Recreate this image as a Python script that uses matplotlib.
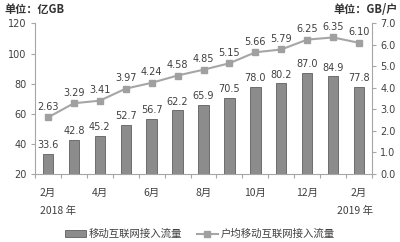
import matplotlib
matplotlib.use("Agg")
import matplotlib.pyplot as plt
import numpy as np

plt.rcParams['font.family'] = ['Noto Sans CJK SC', 'DejaVu Sans']

months = ['2月', '3月', '4月', '5月', '6月', '7月', '8月', '9月', '10月', '11月', '12月', '1月', '2月']
traffic = [33.6, 42.8, 45.2, 52.7, 56.7, 62.2, 65.9, 70.5, 78.0, 80.2, 87.0, 84.9, 77.8]
per_user = [2.63, 3.29, 3.41, 3.97, 4.24, 4.58, 4.85, 5.15, 5.66, 5.79, 6.25, 6.35, 6.10]
left_ticks = [20, 40, 60, 80, 100, 120]
right_ticks = [0.0, 1.0, 2.0, 3.0, 4.0, 5.0, 6.0, 7.0]

fig = plt.figure(figsize=(4.0, 2.42), dpi=100)
ax = fig.add_axes([0.0875, 0.281, 0.8425, 0.622])
ax2 = ax.twinx()

x = np.arange(len(months))
spine_c = '#a6a6a6'
txt_c = '#404040'

bars = ax.bar(x, traffic, width=0.4, color='#8c8c8c', edgecolor='#5f5f5f', linewidth=0.6, zorder=2,
              label='移动互联网接入流量')
for xi, v in zip(x, traffic):
    ax.text(xi, v + 2.5, f'{v:.1f}', ha='center', va='bottom', fontsize=7, color=txt_c,
            family='DejaVu Sans')
ax.set_ylim(20, 120)
ax.set_xlim(-0.5, len(months) - 0.5)
ax.set_yticks(left_ticks)
ax.set_yticklabels([str(t) for t in left_ticks], fontsize=7, color=txt_c, family='DejaVu Sans')

line, = ax2.plot(x, per_user, color='#a6a6a6', linewidth=1.5, marker='s', markersize=4.5,
                 markerfacecolor='#a0a0a0', markeredgecolor='#a0a0a0', zorder=3,
                 label='户均移动互联网接入流量')
for xi, v in zip(x, per_user):
    ax2.text(xi, v + 0.25, f'{v:.2f}', ha='center', va='bottom', fontsize=7, color=txt_c,
             family='DejaVu Sans')
ax2.set_ylim(0, 7.0)
ax2.set_yticks(right_ticks)
ax2.set_yticklabels([f'{t:.1f}' for t in right_ticks], fontsize=7, color=txt_c, family='DejaVu Sans')

# x ticks: boundaries as tick marks, labels every other month
ax.set_xticks(np.arange(-0.5, len(months), 1.0))
ax.set_xticklabels([])
ax.tick_params(axis='x', length=3, color=spine_c, direction='out')
for xi in x[::2]:
    ax.text(xi, -0.09, months[xi], transform=ax.get_xaxis_transform(), ha='center', va='top',
            fontsize=7.5, color=txt_c)
ax.text(0.4, -0.21, '2018 年', transform=ax.get_xaxis_transform(), ha='center', va='top',
        fontsize=7.5, color=txt_c)
ax.text(11.85, -0.21, '2019 年', transform=ax.get_xaxis_transform(), ha='center', va='top',
        fontsize=7.5, color=txt_c)

for a in (ax, ax2):
    for s in a.spines.values():
        s.set_visible(False)
ax.spines['left'].set_visible(True)
ax.spines['bottom'].set_visible(True)
ax2.spines['right'].set_visible(True)
for s in (ax.spines['left'], ax.spines['bottom'], ax2.spines['right']):
    s.set_color(spine_c)
    s.set_linewidth(0.8)
ax.tick_params(axis='y', length=3, color=spine_c, pad=3)
ax2.tick_params(axis='y', length=3, color=spine_c, pad=3)

fig.text(0.012, 0.96, '单位：亿GB', ha='left', va='center', fontsize=8, fontweight='bold', color='#333333')
fig.text(0.995, 0.96, '单位：GB/户', ha='right', va='center', fontsize=8, fontweight='bold', color='#333333')

fig.legend(handles=[bars, line], loc='center', bbox_to_anchor=(0.5, 0.033), ncol=2, frameon=False,
           fontsize=7.5, handlelength=2.0, handleheight=0.6, columnspacing=1.4, handletextpad=0.3,
           labelcolor=txt_c)

fig.savefig('out.png', dpi=100)
